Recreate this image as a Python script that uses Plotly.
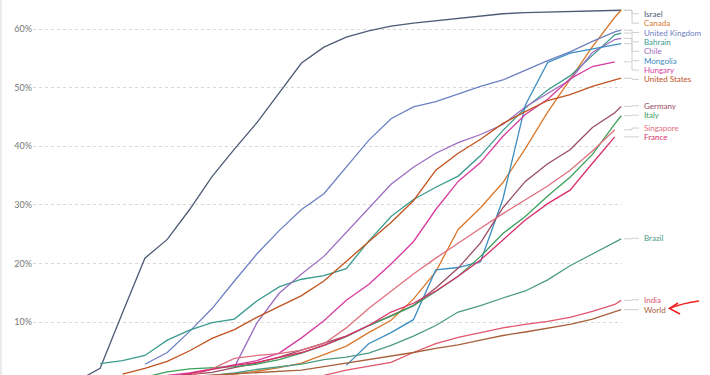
import plotly.graph_objects as go

# Weekly sample dates (plus final day)
DATES = ["2020-12-06", "2020-12-13", "2020-12-20", "2020-12-27", "2021-01-03", "2021-01-10",
         "2021-01-17", "2021-01-24", "2021-01-31", "2021-02-07", "2021-02-14", "2021-02-21",
         "2021-02-28", "2021-03-07", "2021-03-14", "2021-03-21", "2021-03-28", "2021-04-04",
         "2021-04-11", "2021-04-18", "2021-04-25", "2021-05-02", "2021-05-09", "2021-05-16",
         "2021-05-23", "2021-05-30", "2021-06-06", "2021-06-08"]

N = None
ISRAEL = [N, N, 0.0, 2.1, 11.6, 20.9, 24.1, 29.2, 34.8, 39.5, 44.0, 49.2, 54.2, 56.9, 58.6, 59.7,
          60.5, 61.0, 61.4, 61.9, 62.2, 62.6, 62.8, 62.9, 63.0, 63.1, 63.1, 63.2]
CANADA = [N, N, N, N, N, N, N, 0.6, 0.9, 1.1, 1.6, 2.2, 3.0, 4.5, 5.9, 8.2, 10.3, 13.9, 18.6,
          25.8, 29.5, 33.8, 39.6, 45.8, 51.5, 57.0, 62.0, 63.2]
UK = [N, N, N, N, N, 2.8, 4.8, 8.4, 12.3, 17.0, 21.6, 25.6, 29.2, 31.9, 36.5, 41.0, 44.7, 46.7,
      47.6, 48.9, 50.2, 51.3, 53.0, 54.6, 56.1, 57.9, 59.5, 59.8]
BAHRAIN = [N, N, N, 2.9, 3.4, 4.3, 6.9, 8.6, 9.9, 10.5, 13.6, 16.0, 17.3, 17.9, 19.1, 23.8, 28.0,
           30.9, 33.0, 34.9, 38.4, 42.7, 46.5, 49.6, 52.0, 55.5, 59.0, 59.3]
CHILE = [N, N, N, N, N, N, N, N, N, 2.3, 9.8, 14.9, 18.2, 21.2, 25.3, 29.4, 33.5, 36.4, 38.8,
         40.6, 42.0, 43.7, 46.7, 49.0, 51.3, 56.0, 58.2, 58.4]
MONGOLIA = [N, N, N, N, N, N, N, N, N, N, N, N, N, N, 2.6, 6.3, 8.2, 10.4, 18.9, 19.3, 20.3,
            31.0, 47.0, 54.3, 55.9, 56.6, 57.3, 57.5]
HUNGARY = [N, N, N, N, N, N, 0.9, 1.3, 2.0, 2.7, 3.4, 4.7, 7.3, 10.2, 13.7, 16.4, 19.9, 23.7,
           29.2, 34.0, 37.2, 41.7, 45.4, 48.0, 51.5, 53.6, 54.4, N]
USA = [N, N, N, N, 1.1, 2.1, 3.3, 5.1, 7.2, 8.7, 10.8, 12.7, 14.5, 17.0, 20.4, 23.7, 27.0, 30.7,
       35.9, 38.8, 41.2, 43.9, 45.9, 47.8, 48.8, 50.2, 51.3, 51.6]
GERMANY = [N, N, N, N, N, N, 0.7, 1.1, 1.4, 2.2, 3.0, 4.0, 5.2, 6.3, 7.6, 9.4, 11.1, 12.8, 15.8,
           19.2, 23.5, 29.5, 34.0, 37.0, 39.4, 43.2, 45.7, 46.8]
ITALY = [N, N, N, N, N, 0.6, 1.5, 2.0, 2.2, 2.4, 2.8, 3.6, 4.7, 6.0, 7.5, 9.4, 11.0, 12.8, 15.2,
         17.8, 21.2, 25.1, 28.0, 31.5, 34.7, 38.6, 43.8, 45.2]
SINGAPORE = [N, N, N, N, N, N, N, 0.8, 2.0, 3.8, 4.3, 4.6, 5.2, 6.3, 9.0, 12.3, 15.2, 18.2, 20.9,
             23.5, 26.0, 28.5, 30.8, 33.2, 35.9, 39.2, 42.8, N]
FRANCE = [N, N, N, N, N, N, 0.5, 1.2, 2.0, 2.6, 3.1, 3.9, 4.8, 6.0, 7.6, 9.4, 11.7, 13.2, 15.3,
          17.8, 20.6, 24.0, 27.4, 30.2, 32.5, 37.1, 41.6, N]
BRAZIL = [N, N, N, N, N, N, N, 0.5, 0.9, 1.3, 1.9, 2.4, 2.8, 3.6, 4.0, 4.7, 6.0, 7.6, 9.4, 11.7,
          12.8, 14.1, 15.3, 17.2, 19.6, 21.6, 23.6, 24.2]
INDIA = [N, N, N, N, N, N, N, N, N, N, N, N, 0.4, 0.9, 1.8, 2.4, 3.1, 4.8, 6.3, 7.4, 8.2, 9.0,
         9.6, 10.1, 10.8, 11.8, 13.0, 13.7]
WORLD = [N, N, N, N, N, 0.3, 0.5, 0.7, 1.0, 1.2, 1.35, 1.5, 1.8, 2.4, 3.0, 3.5, 4.1, 4.8, 5.5,
         6.1, 6.9, 7.7, 8.3, 8.9, 9.6, 10.5, 11.7, 12.1]

COUNTRIES = ["Israel", "Canada", "United Kingdom", "Bahrain", "Chile", "Mongolia", "Hungary",
             "United States", "Germany", "Italy", "Singapore", "France", "Brazil", "India", "World"]
SERIES = [ISRAEL, CANADA, UK, BAHRAIN, CHILE, MONGOLIA, HUNGARY, USA, GERMANY, ITALY,
          SINGAPORE, FRANCE, BRAZIL, INDIA, WORLD]
COLORS = ["#4e5b75", "#d9782b", "#6d80c1", "#3b9b8e", "#9b6cc1", "#3b8cc0", "#d63ba0",
          "#c1531f", "#9a4d61", "#3ca05b", "#e0707f", "#d9306d", "#4b9a83", "#e0566d", "#a8603a"]
# label positions (layout, in % units) to avoid overlap
LABEL_POS = [62.6, 61.0, 59.4, 57.8, 56.2, 54.6, 53.0, 51.4, 46.9, 45.3, 43.1, 41.6, 24.3, 13.8, 12.1]

Y_TICKS = [10, 20, 30, 40, 50, 60]
Y_TICK_TEXT = ["10%", "20%", "30%", "40%", "50%", "60%"]

FONT = "Lato, 'Open Sans', sans-serif"
L, R, W, H = 33, 88, 710, 375
PW = W - L - R


def px_to_paper(px):
    return (px - L) / PW


fig = go.Figure()
for name, vals, col in zip(COUNTRIES, SERIES, COLORS):
    fig.add_trace(go.Scatter(x=DATES, y=vals, mode="lines", name=name,
                             line=dict(color=col, width=1.3), connectgaps=False,
                             hoverinfo="skip"))

shapes = []
annotations = []
for name, vals, col, lp in zip(COUNTRIES, SERIES, COLORS, LABEL_POS):
    last = [v for v in vals if v is not None][-1]
    x0, xm, x1 = px_to_paper(624), px_to_paper(632), px_to_paper(639)
    shapes.append(dict(type="path", xref="paper", yref="y",
                       path=f"M {x0},{last} H {xm} V {lp} H {x1}",
                       line=dict(color="#cfcfcf", width=1)))
    annotations.append(dict(x=px_to_paper(642), y=lp, xref="paper", yref="y", text=name,
                            showarrow=False, xanchor="left", yanchor="middle",
                            font=dict(family=FONT, size=8, color=col)))

# hand-drawn red arrow pointing at "World"
def pp(px, py):
    return f"{px_to_paper(px):.4f},{(H - py) / H:.4f}"

shapes.append(dict(type="path", xref="paper", yref="paper",
                   path=f"M {pp(699, 301)} Q {pp(683, 303)} {pp(669.5, 308.5)}",
                   line=dict(color="#ee2222", width=1.5)))
shapes.append(dict(type="path", xref="paper", yref="paper",
                   path=f"M {pp(678, 303)} L {pp(669.5, 308.5)} L {pp(680, 314)}",
                   line=dict(color="#ee2222", width=1.5)))
# faint page border on the far left
shapes.append(dict(type="line", xref="paper", yref="paper", x0=px_to_paper(1), x1=px_to_paper(1),
                   y0=0, y1=1, line=dict(color="#e4e4e4", width=1.5)))

fig.update_layout(
    width=W, height=H,
    margin=dict(l=L, r=R, t=0, b=0),
    paper_bgcolor="white", plot_bgcolor="white",
    showlegend=False,
    shapes=shapes, annotations=annotations,
    font=dict(family=FONT),
)
fig.update_xaxes(visible=False, range=["2020-12-06", "2021-06-08 06:00"])
fig.update_yaxes(range=[0.96, 64.95], tickmode="array", tickvals=Y_TICKS, ticktext=Y_TICK_TEXT,
                 tickfont=dict(family=FONT, size=9, color="#777"), automargin=False,
                 showgrid=True, gridcolor="#d8d8d8", griddash="dot", gridwidth=1,
                 zeroline=False, showline=False, ticks="")

fig.write_html("out.html")
